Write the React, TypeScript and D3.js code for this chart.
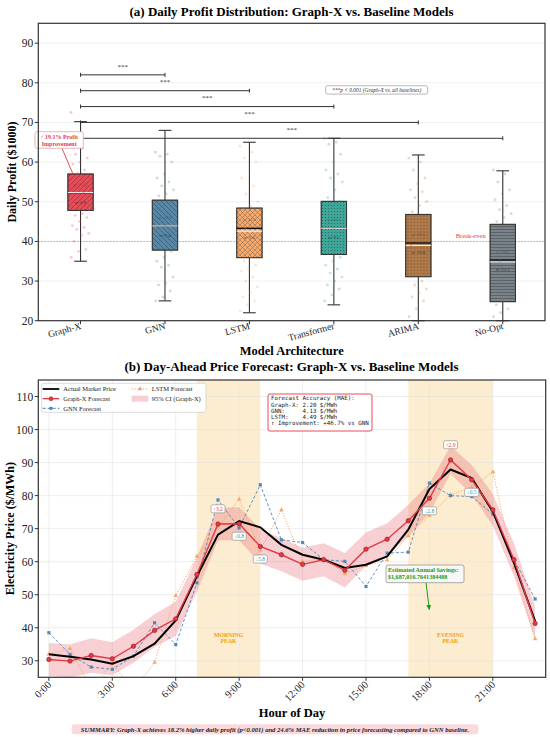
import * as d3 from 'd3';

const models = ['Graph-X', 'GNN', 'LSTM', 'Transformer', 'ARIMA', 'No-Opt'];
const q1 = [47.8, 37.8, 35.9, 36.7, 31.1, 24.8];
const medians = [52.2, 43.9, 43.3, 43.3, 39.6, 35.3];
const means = [52.3, 43.9, 42.6, 43.3, 39.0, 34.8];
const q3 = [57.0, 50.4, 48.4, 50.1, 46.8, 44.3];
const whiskerLow = [35.0, 25.0, 22.0, 24.0, 20.0, 20.0];
const whiskerHigh = [70.2, 68.0, 65.0, 66.0, 61.8, 57.8];
const sigmas = [6.8, 9.4, 9.6, 9.1, 10.8, 13.1];

// individual daily profits (jittered dots)
const profitPoints = [
  [72.5, 63.5, 62, 61, 60, 59.5, 58, 57, 56, 55.5, 55, 54, 53.5, 53, 52.5, 52, 51, 50.5, 50, 49, 48.5, 48, 47, 46.5, 46, 45, 44, 43.5, 43, 42, 41.5, 40, 38, 37.5, 36],
  [62.5, 62, 61.5, 60, 57, 56, 55, 54, 53, 52, 51.5, 50, 49, 48, 47, 46, 45, 44, 43.5, 42, 41, 40, 39, 38, 37.5, 36, 35, 34, 33.5, 31, 29.5, 29, 27.5, 26, 25],
  [64, 62.5, 61, 60, 58.5, 56, 54, 52, 50, 49, 48, 47, 46, 45, 44, 43, 42, 41, 40, 39, 38, 37, 36, 35, 34, 33, 32.5, 31, 30, 28.5, 27, 26, 25, 24, 22.5],
  [66, 65, 64.5, 62, 60, 58, 57, 56, 55, 53, 51, 50, 49, 47.5, 46, 45, 44, 43, 42, 41, 40, 39, 38, 37, 36, 35, 34, 33, 32, 31, 30, 29, 28, 26.5, 25],
  [61, 60, 58, 56, 54.5, 53, 52.5, 51, 50, 49, 47.5, 46, 45, 44, 43, 42, 41, 40, 39, 38, 37, 36, 35, 34, 33, 32, 31, 30, 29, 28, 27, 26, 25, 23, 21],
  [58, 57, 55, 53, 52, 50.5, 49, 48, 47, 46, 45, 44, 43.5, 42, 41, 40, 39, 38, 37, 36, 35, 34, 33, 32, 31, 30, 29, 28, 27, 26, 25, 24, 23, 22, 21],
];
const sigBrackets = [82, 78, 74, 70, 66];
const profitTicks = [20, 30, 40, 50, 60, 70, 80, 90];

const hours = [0, 1, 2, 3, 4, 5, 6, 7, 8, 9, 10, 11, 12, 13, 14, 15, 16, 17, 18, 19, 20, 21, 22, 23];
const actualPrice = [32.0, 31.2, 30.4, 29.1, 31.4, 35.2, 42.2, 55.6, 68.2, 72.3, 70.4, 65.1, 62.1, 60.6, 58.1, 59.1, 61.6, 69.7, 82.0, 87.9, 85.3, 75.2, 59.6, 42.0];
const graphXForecast = [30.4, 29.9, 31.6, 30.6, 34.4, 39.2, 42.7, 56.1, 71.4, 71.5, 64.6, 62.1, 59.2, 60.6, 57.4, 63.8, 66.8, 72.4, 79.2, 90.8, 84.8, 75.7, 60.6, 41.3];
const gnnForecast = [38.5, 31.9, 28.1, 27.4, 31.4, 41.5, 34.9, 53.6, 78.7, 70.2, 83.3, 66.6, 65.8, 60.6, 60.1, 52.5, 62.6, 62.9, 83.8, 80.0, 79.7, 74.4, 60.6, 48.7];
const lstmForecast = [32.0, 33.7, 21.5, 29.1, 21.0, 29.5, 49.7, 61.6, 70.5, 78.9, 63.5, 75.7, 60.0, 61.0, 56.4, 58.8, 60.5, 67.8, 74.0, 80.2, 82.5, 87.2, 58.2, 36.6];
const ciHalfWidth = [5.0, 5.0, 5.2, 5.0, 5.0, 5.0, 5.2, 5.2, 5.0, 5.0, 5.2, 5.0, 5.0, 5.0, 5.2, 5.0, 4.8, 4.8, 4.5, 4.2, 4.5, 4.8, 5.0, 5.0];
const errorHours = [8, 9, 10, 18, 19, 20];
const peaks = [
  { from: 7, to: 10, label: 'MORNING' },
  { from: 17, to: 21, label: 'EVENING' },
];
const hourTicks = [0, 3, 6, 9, 12, 15, 18, 21];
const priceTicks = [30, 40, 50, 60, 70, 80, 90, 100, 110];

const boxColors = ['#e63946', '#457b9d', '#f4a261', '#2a9d8f', '#b5733a', '#6c757d'];
const boxPatterns = ['hFwd', 'hBack', 'hCross', 'hDots', 'hRings', 'hHoriz'];
const SERIF = "'Liberation Serif', 'Times New Roman', serif";
const MONO = "'DejaVu Sans Mono', monospace";
const RED = '#e63946';
const TEAL = '#2a9d8f';

export default function App() {
  // panel (a)
  const xA = d3.scaleLinear().domain([-0.5, 5.5]).range([38.3, 545]);
  const yA = d3.scaleLinear().domain([20, 95]).range([320.7, 23.3]);
  const bw = (xA(0.3) - xA(0));
  const capW = bw / 2;

  // panel (b)
  const xB = d3.scaleLinear().domain([-0.5, 23.5]).range([38.3, 545.7]);
  const yB = d3.scaleLinear().domain([25, 115]).range([677.3, 380]);
  const lineOf = (vals: number[]) =>
    d3.line<number>().x((_, i) => xB(hours[i])).y((d) => yB(d))(vals) || '';
  const ciArea =
    d3.area<number>()
      .x((_, i) => xB(hours[i]))
      .y0((d, i) => yB(d - ciHalfWidth[i]))
      .y1((d, i) => yB(d + ciHalfWidth[i]))(graphXForecast) || '';
  const tri = d3.symbol().type(d3.symbolTriangle).size(9)() || '';

  const [aL, aR] = xA.range();
  const [aB, aT] = yA.range();
  const [bL, bR] = xB.range();
  const [bB, bT] = yB.range();

  return (
    <svg width={550} height={737} style={{ position: 'absolute', left: 0, top: 0, background: '#fff' }} fontFamily={SERIF}>
      <defs>
        <pattern id="hFwd" patternUnits="userSpaceOnUse" width={5} height={5}>
          <path d="M-1,1 l2,-2 M0,5 l5,-5 M4,6 l2,-2" stroke="#222" strokeWidth={0.6} />
        </pattern>
        <pattern id="hBack" patternUnits="userSpaceOnUse" width={5} height={5}>
          <path d="M-1,4 l2,2 M0,0 l5,5 M4,-1 l2,2" stroke="#222" strokeWidth={0.6} />
        </pattern>
        <pattern id="hCross" patternUnits="userSpaceOnUse" width={5} height={5}>
          <path d="M-1,1 l2,-2 M0,5 l5,-5 M4,6 l2,-2 M-1,4 l2,2 M0,0 l5,5 M4,-1 l2,2" stroke="#222" strokeWidth={0.5} />
        </pattern>
        <pattern id="hDots" patternUnits="userSpaceOnUse" width={3} height={3}>
          <circle cx={1.5} cy={1.5} r={0.55} fill="#222" />
        </pattern>
        <pattern id="hRings" patternUnits="userSpaceOnUse" width={3.2} height={3.2}>
          <circle cx={1.6} cy={1.6} r={0.9} fill="none" stroke="#222" strokeWidth={0.45} />
        </pattern>
        <pattern id="hHoriz" patternUnits="userSpaceOnUse" width={4} height={3}>
          <line x1={0} x2={4} y1={1.5} y2={1.5} stroke="#222" strokeWidth={0.6} />
        </pattern>
        <clipPath id="clipB">
          <rect x={bL} y={bT} width={bR - bL} height={bB - bT} />
        </clipPath>
        <marker id="arrowG" viewBox="0 0 10 10" refX={9} refY={5} markerWidth={5} markerHeight={5} orient="auto">
          <path d="M0,0 L10,5 L0,10 z" fill="#1a9a1a" />
        </marker>
      </defs>

      {/* ================= panel (a) ================= */}
      <text x={291.5} y={15.5} textAnchor="middle" fontSize={13} fontWeight="bold">
        (a) Daily Profit Distribution: Graph-X vs. Baseline Models
      </text>
      {profitTicks.map((t) => (
        <line key={'ga' + t} x1={aL} x2={aR} y1={yA(t)} y2={yA(t)} stroke="#e6e6e6" strokeWidth={0.6} />
      ))}
      <line x1={aL} x2={aR} y1={yA(40)} y2={yA(40)} stroke={RED} strokeWidth={0.7} strokeDasharray="1.5,1.5" opacity={0.8} />

      {models.map((m, i) => {
        const cx = xA(i);
        return (
          <g key={m}>
            <line x1={cx} x2={cx} y1={yA(q3[i])} y2={yA(whiskerHigh[i])} stroke="#333" strokeWidth={1.1} />
            <line x1={cx} x2={cx} y1={yA(q1[i])} y2={yA(whiskerLow[i])} stroke="#333" strokeWidth={1.1} />
            <line x1={cx - capW / 2} x2={cx + capW / 2} y1={yA(whiskerHigh[i])} y2={yA(whiskerHigh[i])} stroke="#333" strokeWidth={1.1} />
            <line x1={cx - capW / 2} x2={cx + capW / 2} y1={yA(whiskerLow[i])} y2={yA(whiskerLow[i])} stroke="#333" strokeWidth={1.1} />
            <rect x={cx - bw / 2} y={yA(q3[i])} width={bw} height={yA(q1[i]) - yA(q3[i])} fill={boxColors[i]} fillOpacity={0.9} />
            <rect x={cx - bw / 2} y={yA(q3[i])} width={bw} height={yA(q1[i]) - yA(q3[i])} fill={`url(#${boxPatterns[i]})`} opacity={0.55} stroke="#333" strokeWidth={1} />
            <rect x={cx - bw / 2} y={yA(q3[i])} width={bw} height={yA(q1[i]) - yA(q3[i])} fill="none" stroke="#333" strokeWidth={1} />
            <line x1={cx - bw / 2} x2={cx + bw / 2} y1={yA(medians[i])} y2={yA(medians[i])} stroke="#111" strokeWidth={1.4} />
            <line x1={cx - bw / 2} x2={cx + bw / 2} y1={yA(means[i])} y2={yA(means[i])} stroke="#fff" strokeWidth={1.2} opacity={0.9} />
            <text x={cx} y={yA(medians[i] + 1.8)} textAnchor="middle" fontSize={4.5} fill="#333" opacity={0.45}>
              {`μ=${means[i].toFixed(1)}`}
            </text>
            <text x={cx} y={yA(medians[i] - 2.4) + 1.5} textAnchor="middle" fontSize={4.8} fill="#222" opacity={0.75}>
              {`σ=${sigmas[i].toFixed(1)}`}
            </text>
            {profitPoints[i].map((v, j) => (
              <circle
                key={j}
                cx={cx + ((j * 0.618034) % 1 - 0.5) * bw * 0.75}
                cy={yA(v)}
                r={1.4}
                fill={boxColors[i]}
                opacity={0.28}
              />
            ))}
          </g>
        );
      })}

      {sigBrackets.map((v, k) => {
        const x1 = xA(0);
        const x2 = xA(k + 1);
        const y = yA(v);
        return (
          <g key={'sb' + k} stroke="#333" strokeWidth={1}>
            <line x1={x1} x2={x2} y1={y} y2={y} />
            <line x1={x1} x2={x1} y1={y - 2} y2={y + 2} />
            <line x1={x2} x2={x2} y1={y - 2} y2={y + 2} />
            <text x={(x1 + x2) / 2} y={yA(v + 2.2) + 2.5} textAnchor="middle" fontSize={7} fill="#333" stroke="none">***</text>
          </g>
        );
      })}

      <rect x={325.7} y={85.7} width={102} height={8.4} rx={2} fill="#fff" stroke="#888" strokeWidth={0.6} />
      <text x={376.7} y={92} textAnchor="middle" fontSize={5.4} fontStyle="italic" fill="#333">
        ***p &lt; 0.001 (Graph-X vs. all baselines)
      </text>

      <line x1={62} y1={148.3} x2={xA(-0.09)} y2={yA(57)} stroke={RED} strokeWidth={0.9} />
      <rect x={35} y={131.7} width={48.3} height={16.6} rx={2} fill="#fff" stroke="#d99" strokeWidth={0.7} />
      <text x={59.2} y={138.6} textAnchor="middle" fontSize={6} fontWeight="bold" fill={RED}>↑ 19.1% Profit</text>
      <text x={59.2} y={145.6} textAnchor="middle" fontSize={6} fontWeight="bold" fill={RED}>Improvement</text>

      <text x={455.7} y={237.6} fontSize={6.5} fill={RED}>Break-even</text>

      <rect x={aL} y={aT} width={aR - aL} height={aB - aT} fill="none" stroke="#333" strokeWidth={1.2} />
      {profitTicks.map((t) => (
        <g key={'ta' + t}>
          <line x1={aL - 3.5} x2={aL} y1={yA(t)} y2={yA(t)} stroke="#333" strokeWidth={1} />
          <text x={aL - 5} y={yA(t) + 4} textAnchor="end" fontSize={11.5} fill="#222">{t}</text>
        </g>
      ))}
      {models.map((m, i) => (
        <g key={'xa' + m}>
          <line x1={xA(i)} x2={xA(i)} y1={aB} y2={aB + 3.5} stroke="#333" strokeWidth={1} />
          <text transform={`translate(${xA(i) + 1},${aB + 8}) rotate(-15)`} textAnchor="end" fontSize={9.5} fill="#222">{m}</text>
        </g>
      ))}
      <text transform={`translate(16,${(aT + aB) / 2}) rotate(-90)`} textAnchor="middle" fontSize={12} fontWeight="bold">
        Daily Profit ($1000)
      </text>
      <text x={291.7} y={354.5} textAnchor="middle" fontSize={12.5} fontWeight="bold">Model Architecture</text>

      {/* ================= panel (b) ================= */}
      <text x={291.5} y={371} textAnchor="middle" fontSize={13} fontWeight="bold">
        (b) Day-Ahead Price Forecast: Graph-X vs. Baseline Models
      </text>
      {peaks.map((p) => (
        <rect key={p.label} x={xB(p.from)} y={bT} width={xB(p.to) - xB(p.from)} height={bB - bT} fill="#fde9c4" opacity={0.8} />
      ))}
      {priceTicks.map((t) => (
        <line key={'gb' + t} x1={bL} x2={bR} y1={yB(t)} y2={yB(t)} stroke="#e3e3e3" strokeWidth={0.6} />
      ))}
      {hourTicks.map((t) => (
        <line key={'gx' + t} x1={xB(t)} x2={xB(t)} y1={bT} y2={bB} stroke="#e3e3e3" strokeWidth={0.6} />
      ))}
      {peaks.map((p) => (
        <g key={'pl' + p.label}>
          <text x={xB((p.from + p.to) / 2)} y={yB(37.2)} textAnchor="middle" fontSize={5.8} fontWeight="bold" fill="#f39c12">{p.label}</text>
          <text x={xB((p.from + p.to) / 2)} y={yB(35.4)} textAnchor="middle" fontSize={5.8} fontWeight="bold" fill="#f39c12">PEAK</text>
        </g>
      ))}

      <g clipPath="url(#clipB)">
        <path d={ciArea} fill="#e8616c" opacity={0.3} />
        <path d={lineOf(lstmForecast)} fill="none" stroke="#f4a261" strokeWidth={1} strokeDasharray="1.2,1.6" opacity={0.9} />
        {lstmForecast.map((v, i) => (
          <path key={'lm' + i} d={tri} transform={`translate(${xB(hours[i])},${yB(v)})`} fill="#f4a261" opacity={0.9} />
        ))}
        <path d={lineOf(gnnForecast)} fill="none" stroke="#4682b4" strokeWidth={1} strokeDasharray="3,2" opacity={0.85} />
        {gnnForecast.map((v, i) => (
          <rect key={'gm' + i} x={xB(hours[i]) - 1.6} y={yB(v) - 1.6} width={3.2} height={3.2} fill="#4682b4" opacity={0.9} />
        ))}
        <path d={lineOf(actualPrice)} fill="none" stroke="#000" strokeWidth={2} />
        <path d={lineOf(graphXForecast)} fill="none" stroke={RED} strokeWidth={1.4} />
        {graphXForecast.map((v, i) => (
          <circle key={'xm' + i} cx={xB(hours[i])} cy={yB(v)} r={2.2} fill={RED} stroke="#8b1a1a" strokeWidth={0.6} />
        ))}
      </g>

      {errorHours.map((h) => {
        const diff = graphXForecast[h] - actualPrice[h];
        const over = diff > 0;
        const ly = yB(graphXForecast[h] + (over ? 4.6 : -3.8));
        const col = over ? RED : TEAL;
        return (
          <g key={'err' + h}>
            <rect x={xB(h) - 7} y={ly - 4} width={14} height={8} rx={1.5} fill="#fff" stroke="#888" strokeWidth={0.6} />
            <text x={xB(h)} y={ly + 2} textAnchor="middle" fontSize={5.5} fill={col}>
              {`${over ? '↑' : '↓'}${Math.abs(diff).toFixed(1)}`}
            </text>
          </g>
        );
      })}

      <rect x={268} y={394} width={104} height={37} rx={2} fill="#fff" stroke={RED} strokeWidth={0.9} />
      {[
        'Forecast Accuracy (MAE):',
        'Graph-X: 2.20 $/MWh',
        'GNN:     4.13 $/MWh',
        'LSTM:    4.49 $/MWh',
        '↑ Improvement: +46.7% vs GNN',
      ].map((s, i) => (
        <text key={'fa' + i} x={271} y={400.3 + i * 6.2} fontSize={5.8} fontFamily={MONO} fill="#222" style={{ whiteSpace: 'pre' }}>
          {s}
        </text>
      ))}

      <line x1={426} y1={582.7} x2={429.3} y2={609.5} stroke="#1a9a1a" strokeWidth={1} markerEnd="url(#arrowG)" />
      <rect x={386} y={565} width={78} height={17.7} rx={2} fill="#f7f7f7" stroke="#888" strokeWidth={0.7} />
      <text x={388} y={571.8} fontSize={6.1} fontWeight="bold" fill="#1a9a1a">Estimated Annual Savings:</text>
      <text x={388} y={579.4} fontSize={6.1} fontWeight="bold" fill="#1a9a1a">$1,687,016.7641384488</text>

      <rect x={41.7} y={383.3} width={164.3} height={29} rx={2} fill="#fff" stroke="#ccc" strokeWidth={0.7} opacity={0.95} />
      <line x1={42.7} x2={59.3} y1={389} y2={389} stroke="#000" strokeWidth={1.8} />
      <text x={63.3} y={391.2} fontSize={6.5} fill="#222">Actual Market Price</text>
      <line x1={42.7} x2={59.3} y1={398.7} y2={398.7} stroke={RED} strokeWidth={1.3} />
      <circle cx={51} cy={398.7} r={2} fill={RED} stroke="#8b1a1a" strokeWidth={0.5} />
      <text x={63.3} y={400.9} fontSize={6.5} fill="#222">Graph-X Forecast</text>
      <line x1={42.7} x2={59.3} y1={408.3} y2={408.3} stroke="#4682b4" strokeWidth={1} strokeDasharray="3,2" />
      <rect x={49.5} y={406.8} width={3} height={3} fill="#4682b4" />
      <text x={63.3} y={410.5} fontSize={6.5} fill="#222">GNN Forecast</text>
      <line x1={131.7} x2={148.3} y1={389} y2={389} stroke="#f4a261" strokeWidth={1} strokeDasharray="1.2,1.6" />
      <path d={tri} transform="translate(140,389)" fill="#f4a261" />
      <text x={151.7} y={391.2} fontSize={6.5} fill="#222">LSTM Forecast</text>
      <rect x={131.7} y={395.7} width={16.6} height={6} fill="#e8616c" opacity={0.3} />
      <text x={151.7} y={400.9} fontSize={6.5} fill="#222">95% CI (Graph-X)</text>

      <rect x={bL} y={bT} width={bR - bL} height={bB - bT} fill="none" stroke="#333" strokeWidth={1.2} />
      {priceTicks.map((t) => (
        <g key={'tb' + t}>
          <line x1={bL - 3.5} x2={bL} y1={yB(t)} y2={yB(t)} stroke="#333" strokeWidth={1} />
          <text x={bL - 5} y={yB(t) + 4} textAnchor="end" fontSize={11.5} fill="#222">{t}</text>
        </g>
      ))}
      {hourTicks.map((t) => (
        <g key={'xb' + t}>
          <line x1={xB(t)} x2={xB(t)} y1={bB} y2={bB + 3.5} stroke="#333" strokeWidth={1} />
          <text transform={`translate(${xB(t) + 3},${bB + 8}) rotate(-45)`} textAnchor="end" fontSize={10.5} fill="#222">
            {`${t}:00`}
          </text>
        </g>
      ))}
      <text transform={`translate(14,${(bT + bB) / 2}) rotate(-90)`} textAnchor="middle" fontSize={12} fontWeight="bold">
        Electricity Price ($/MWh)
      </text>
      <text x={292} y={716.5} textAnchor="middle" fontSize={12.5} fontWeight="bold">Hour of Day</text>

      <rect x={71.7} y={724.3} width={406.6} height={10} rx={3} fill="#fadadd" />
      <text x={275} y={731.7} textAnchor="middle" fontSize={6.6} fontStyle="italic" fontWeight="bold" fill="#222">
        SUMMARY: Graph-X achieves 18.2% higher daily profit (p&lt;0.001) and 24.6% MAE reduction in price forecasting compared to GNN baseline.
      </text>
    </svg>
  );
}
